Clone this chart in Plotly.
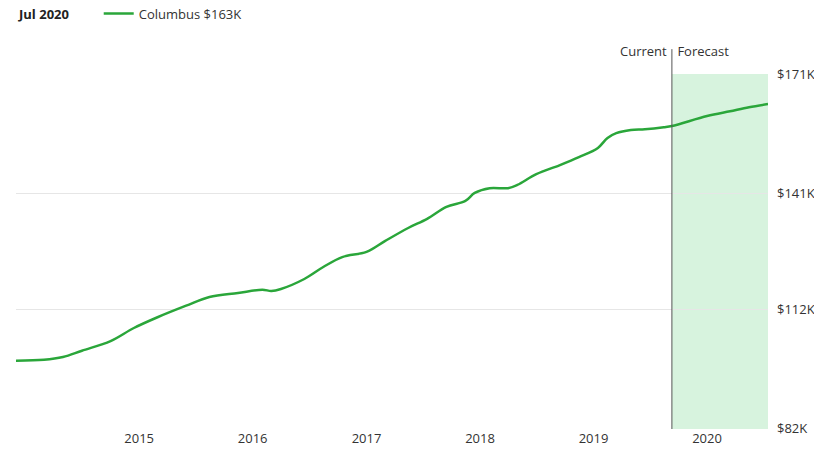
import plotly.graph_objects as go

dates = ["2013-12-01", "2014-03-01", "2014-05-01", "2014-07-01", "2014-10-01", "2014-12-15",
         "2015-03-01", "2015-06-01", "2015-08-15", "2015-11-15", "2016-02-01", "2016-03-01",
         "2016-04-01", "2016-06-15", "2016-08-15", "2016-10-15", "2017-01-01", "2017-03-01",
         "2017-05-15", "2017-07-15", "2017-09-15", "2017-11-15", "2017-12-15", "2018-02-01",
         "2018-04-01", "2018-05-01", "2018-07-01", "2018-09-15", "2018-11-15", "2019-01-15",
         "2019-02-15", "2019-03-15", "2019-05-01", "2019-06-15", "2019-08-15", "2019-09-10",
         "2020-01-01", "2020-03-15", "2020-05-15", "2020-07-15"]
values = [99.1, 99.3, 100.0, 101.6, 104.0, 107.3, 110.0, 112.9, 115.1, 116.1, 116.9, 116.6,
          117.1, 119.6, 122.6, 125.1, 126.4, 129.1, 132.4, 134.7, 137.7, 139.2, 141.2, 142.4,
          142.4, 143.2, 145.9, 148.2, 150.2, 152.5, 155.0, 156.2, 157.0, 157.2, 157.7, 158.0,
          160.5, 161.7, 162.7, 163.5]
forecast_start = "2019-09-10"
y_ticks = [82, 112, 141, 171]
y_labels = ["$82K", "$112K", "$141K", "$171K"]
x_ticks = ["2015-01-01", "2016-01-01", "2017-01-01", "2018-01-01", "2019-01-01", "2020-01-01"]
x_labels = ["2015", "2016", "2017", "2018", "2019", "2020"]

fig = go.Figure()
fig.add_vrect(x0=forecast_start, x1=dates[-1], fillcolor="#d7f3de", line_width=0, layer="below")
fig.add_trace(go.Scatter(x=dates, y=values, mode="lines", name="Columbus $163K",
                         line=dict(color="#2aa63a", width=2.5, shape="spline")))
fig.add_shape(type="line", x0=forecast_start, x1=forecast_start, y0=0, y1=1.07, yref="paper",
              line=dict(color="#555", width=1))
fig.add_annotation(x=forecast_start, y=1.065, yref="paper", text="Current ", xanchor="right",
                   yanchor="middle", showarrow=False, font=dict(size=13, color="#333"))
fig.add_annotation(x=forecast_start, y=1.065, yref="paper", text=" Forecast", xanchor="left",
                   yanchor="middle", showarrow=False, font=dict(size=13, color="#333"))
fig.add_annotation(x=0.0, xref="paper", y=1.17, yref="paper", text="<b>Jul 2020</b>",
                   xanchor="left", yanchor="middle", showarrow=False, font=dict(size=13, color="#222"))

fig.update_layout(
    width=822, height=457, margin=dict(l=8, r=62, t=66, b=36, autoexpand=False),
    plot_bgcolor="white", paper_bgcolor="white",
    font=dict(family="Open Sans", size=13, color="#333"),
    showlegend=True,
    legend=dict(x=0.11, y=1.17, xanchor="left", yanchor="middle", orientation="h",
                font=dict(size=13, color="#333")),
    xaxis=dict(range=[dates[0], dates[-1]], tickvals=x_ticks, ticktext=x_labels,
               showgrid=False, zeroline=False, ticks="", automargin=False),
    yaxis=dict(range=[81.95, 171.05], tickvals=y_ticks, ticktext=y_labels, side="right",
               showgrid=True, gridcolor="#e6e6e6", zeroline=False, ticklabelstandoff=8,
               automargin=False),
)
fig.write_html("out.html")
